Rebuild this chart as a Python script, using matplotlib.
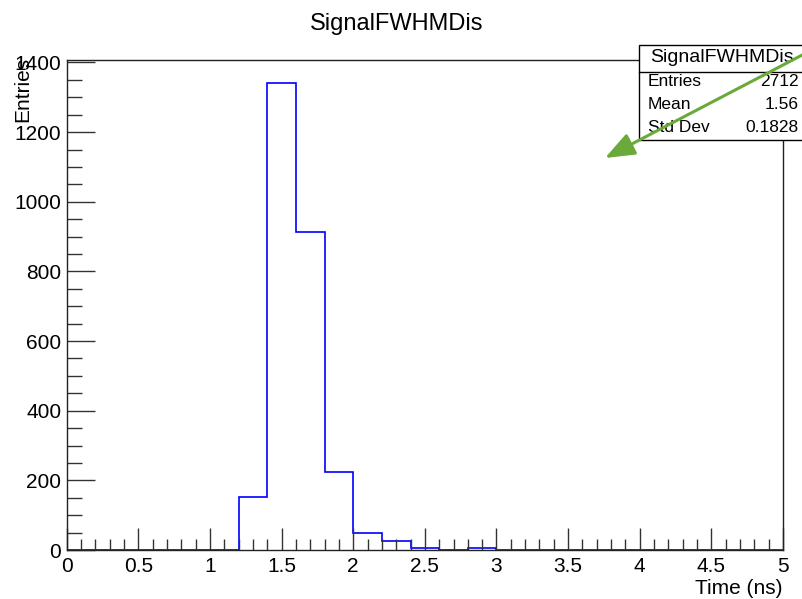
import numpy as np
import matplotlib
matplotlib.use("Agg")
import matplotlib.pyplot as plt
from matplotlib.patches import Rectangle, FancyArrowPatch
from matplotlib.lines import Line2D

plt.rcParams['font.family'] = ['Liberation Sans', 'DejaVu Sans']

# histogram data (bins of 0.2 ns from 0 to 5)
bin_edges = np.round(np.arange(0, 5.0001, 0.2), 2)
counts = [0, 0, 0, 0, 0, 0, 152, 1340, 912, 225, 48, 25, 5, 0, 5,
          0, 0, 0, 0, 0, 0, 0, 0, 0, 0]
hist_name = "SignalFWHMDis"
stat_labels = ["Entries", "Mean", "Std Dev"]
stat_values = ["2712", "1.56", "0.1828"]

W, H = 803, 599
fig = plt.figure(figsize=(W / 100, H / 100), dpi=100)

def fx(px):
    return px / W

def fy(py):
    return 1 - py / H

ax = fig.add_axes([fx(66.7), fy(550), fx(783) - fx(66.7), fy(60) - fy(550)])
ax.stairs(counts, bin_edges, color='#0000ff', lw=1.2)

ax.set_xlim(0, 5)
ax.set_ylim(0, 1407)
ax.set_xticks(np.arange(0, 5.01, 0.5))
ax.set_xticklabels(["0", "0.5", "1", "1.5", "2", "2.5", "3", "3.5", "4", "4.5", "5"])
ax.set_xticks(np.arange(0, 5.01, 0.1), minor=True)
ax.set_yticks(np.arange(0, 1401, 200))
ax.set_yticks(np.arange(0, 1401, 50), minor=True)
ax.tick_params(which='both', direction='in', top=False, right=False, labelsize=15, color='#333333')
ax.tick_params(axis='y', which='major', length=20, width=1, pad=4)
ax.tick_params(axis='y', which='minor', length=11, width=1)
ax.tick_params(axis='x', which='major', length=16, width=1, pad=5)
ax.tick_params(axis='x', which='minor', length=8, width=1)
for sp in ax.spines.values():
    sp.set_linewidth(1)
    sp.set_color('#222222')

fig.text(fx(397), fy(24), hist_name, fontsize=17, ha='center', va='center')
fig.text(fx(783), fy(588), "Time (ns)", fontsize=15, ha='right', va='center')
fig.text(fx(23), fy(57), "Entries", fontsize=15, ha='center', va='top', rotation=90)

# stats box
box_l, box_t, box_r, box_b = 639, 45, 806, 140
fig.add_artist(Rectangle((fx(box_l), fy(box_b)), fx(box_r) - fx(box_l), fy(box_t) - fy(box_b),
                         transform=fig.transFigure, facecolor='white', edgecolor='black',
                         lw=1, zorder=5, clip_on=False))
fig.add_artist(Line2D([fx(box_l), fx(box_r)], [fy(72), fy(72)], transform=fig.transFigure,
                      color='black', lw=1, zorder=6))
fig.text(fx(722), fy(58), hist_name, fontsize=14, ha='center', va='center', zorder=7)
for i, (lab, val) in enumerate(zip(stat_labels, stat_values)):
    y = 82 + i * 22.5
    fig.text(fx(648), fy(y), lab, fontsize=12.5, ha='left', va='center', zorder=7)
    fig.text(fx(799), fy(y), val, fontsize=12.5, ha='right', va='center', zorder=7)

# green arrow, drawn over the stats box
arrow = FancyArrowPatch((fx(806), fy(53)), (fx(605), fy(158)), transform=fig.transFigure,
                        arrowstyle='-|>,head_length=0.9,head_width=0.35',
                        color='#6aaa3a', lw=2.2, mutation_scale=20,
                        shrinkA=0, shrinkB=0, zorder=10)
fig.add_artist(arrow)

fig.savefig("out.png", dpi=100)
